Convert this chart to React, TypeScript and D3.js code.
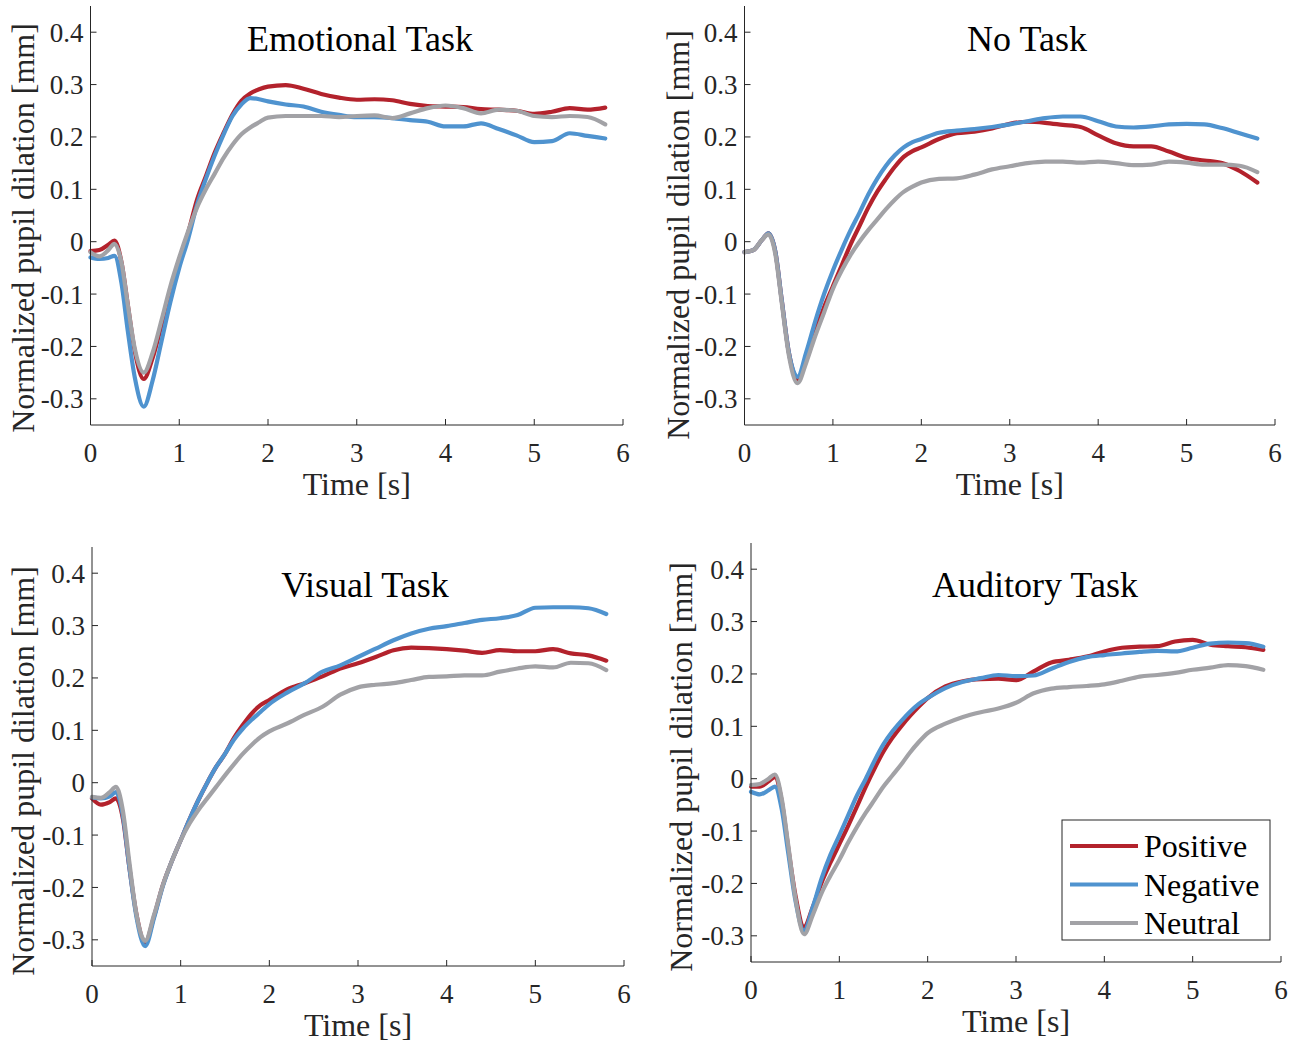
import React from "react";
import * as d3 from "d3";

// Sample times (s) shared by every series
const TIMES = [
  0, 0.1, 0.2, 0.27, 0.35, 0.42, 0.5, 0.6, 0.7, 0.8, 0.9,
  1.0, 1.1, 1.2, 1.3, 1.4, 1.5, 1.6, 1.7, 1.8, 1.9, 2.0,
  2.2, 2.4, 2.6, 2.8, 3.0, 3.2, 3.4, 3.6, 3.8, 4.0, 4.2, 4.4, 4.6, 4.8, 5.0, 5.2, 5.4, 5.6, 5.8,
];

const CONDITIONS = ["Positive", "Negative", "Neutral"];
const COLORS = ["#B3222C", "#4F93CF", "#A2A2A6"];

const X_TICKS = [0, 1, 2, 3, 4, 5, 6];
const Y_TICKS = [-0.3, -0.2, -0.1, 0, 0.1, 0.2, 0.3, 0.4];
const Y_TICK_LABELS = ["-0.3", "-0.2", "-0.1", "0", "0.1", "0.2", "0.3", "0.4"];

// Emotional Task
const emotionalPositive = [
  -0.018, -0.016, -0.006, 0.002, -0.04, -0.12, -0.21, -0.262, -0.222, -0.16, -0.095,
  -0.035, 0.017, 0.08, 0.125, 0.17, 0.208, 0.243, 0.269, 0.283, 0.291, 0.296,
  0.299, 0.292, 0.282, 0.275, 0.271, 0.272, 0.27, 0.263, 0.259, 0.258, 0.257, 0.253, 0.252, 0.25, 0.244, 0.248, 0.255, 0.252, 0.256,
];
const emotionalNegative = [
  -0.03, -0.033, -0.031, -0.027, -0.08, -0.17, -0.26, -0.315, -0.265, -0.19, -0.115,
  -0.05, 0.005, 0.07, 0.12, 0.165, 0.205, 0.24, 0.262, 0.274, 0.272, 0.268,
  0.262, 0.258, 0.248, 0.242, 0.238, 0.238, 0.236, 0.232, 0.229, 0.22, 0.22, 0.226, 0.215, 0.203, 0.19, 0.192, 0.207, 0.202, 0.197,
];
const emotionalNeutral = [
  -0.02, -0.028, -0.016, -0.004, -0.04, -0.12, -0.205, -0.25, -0.212, -0.15, -0.085,
  -0.03, 0.02, 0.065, 0.1, 0.13, 0.16, 0.185, 0.205, 0.218, 0.228, 0.237,
  0.24, 0.24, 0.24, 0.238, 0.24, 0.241, 0.236, 0.245, 0.255, 0.26, 0.255, 0.245, 0.252, 0.25, 0.24, 0.238, 0.24, 0.238, 0.224,
];

// No Task
const noTaskPositive = [
  -0.02, -0.016, 0.004, 0.016, -0.02, -0.11, -0.21, -0.262, -0.222, -0.17, -0.125,
  -0.085, -0.045, -0.005, 0.03, 0.065, 0.095, 0.12, 0.143, 0.162, 0.173, 0.18,
  0.196, 0.207, 0.21, 0.216, 0.225, 0.229, 0.227, 0.223, 0.219, 0.203, 0.188, 0.182, 0.182, 0.172, 0.16, 0.155, 0.15, 0.135, 0.113,
];
const noTaskNegative = [
  -0.02, -0.016, 0.004, 0.016, -0.02, -0.11, -0.21, -0.258, -0.21, -0.152, -0.1,
  -0.055, -0.015, 0.022, 0.055, 0.09, 0.12, 0.145, 0.165, 0.18, 0.19, 0.196,
  0.208, 0.212, 0.215, 0.219, 0.224, 0.23, 0.236, 0.239, 0.239, 0.23, 0.22, 0.218, 0.22, 0.224, 0.225, 0.224, 0.217, 0.207, 0.197,
];
const noTaskNeutral = [
  -0.02, -0.016, 0.004, 0.014, -0.025, -0.115, -0.215, -0.27, -0.23, -0.18, -0.135,
  -0.09, -0.055, -0.025, 0.0, 0.022, 0.042, 0.062, 0.08, 0.095, 0.105, 0.113,
  0.12, 0.121, 0.128, 0.138, 0.144, 0.15, 0.153, 0.153, 0.151, 0.153, 0.15, 0.146, 0.147, 0.153, 0.151, 0.147, 0.147, 0.145, 0.133,
];

// Visual Task
const visualPositive = [
  -0.03, -0.042, -0.037, -0.03, -0.07, -0.16, -0.25, -0.305, -0.255, -0.195, -0.15,
  -0.11, -0.07, -0.033, 0.0, 0.03, 0.055, 0.085, 0.11, 0.132, 0.148, 0.158,
  0.178, 0.19, 0.203, 0.218, 0.228, 0.24, 0.253, 0.258, 0.257, 0.255, 0.252, 0.248, 0.253, 0.251, 0.251, 0.255, 0.247, 0.243, 0.233,
];
const visualNegative = [
  -0.028, -0.03, -0.026, -0.018, -0.065, -0.16, -0.255, -0.312, -0.258, -0.197, -0.15,
  -0.11, -0.07, -0.033, 0.0, 0.03, 0.055, 0.082, 0.103, 0.12, 0.135, 0.15,
  0.172, 0.19, 0.212, 0.224, 0.24, 0.256, 0.272, 0.285, 0.294, 0.299, 0.305, 0.311, 0.314, 0.32, 0.334, 0.335, 0.335, 0.333, 0.322,
];
const visualNeutral = [
  -0.027, -0.029, -0.018, -0.008, -0.055, -0.15, -0.25, -0.302, -0.252, -0.195, -0.15,
  -0.11, -0.078, -0.052, -0.03, -0.008, 0.014, 0.035, 0.055, 0.072, 0.087, 0.098,
  0.113, 0.13, 0.145, 0.168, 0.182, 0.187, 0.19, 0.196, 0.202, 0.203, 0.205, 0.205, 0.212, 0.218, 0.222, 0.22, 0.229, 0.228, 0.215,
];

// Auditory Task
const auditoryPositive = [
  -0.015, -0.015, -0.005, 0.003, -0.045, -0.13, -0.22, -0.283, -0.245, -0.198, -0.16,
  -0.125, -0.09, -0.053, -0.015, 0.02, 0.052, 0.078, 0.1, 0.12, 0.138, 0.154,
  0.176, 0.186, 0.19, 0.191, 0.188, 0.205, 0.222, 0.227, 0.233, 0.243, 0.25, 0.252, 0.253, 0.262, 0.265, 0.256, 0.253, 0.251, 0.246,
];
const auditoryNegative = [
  -0.025, -0.03, -0.022, -0.015, -0.06, -0.14, -0.23, -0.29, -0.245, -0.19, -0.145,
  -0.108, -0.07, -0.032, 0.0, 0.035, 0.066, 0.09, 0.11, 0.128, 0.143, 0.154,
  0.173, 0.185, 0.192, 0.198, 0.196, 0.197, 0.21, 0.223, 0.232, 0.236, 0.239, 0.242, 0.244, 0.243, 0.25, 0.258, 0.26, 0.259, 0.252,
];
const auditoryNeutral = [
  -0.012, -0.01, 0.0, 0.008, -0.04, -0.125, -0.225, -0.297, -0.26, -0.218, -0.185,
  -0.155, -0.122, -0.092, -0.065, -0.04, -0.015, 0.006, 0.027, 0.05, 0.07, 0.087,
  0.105, 0.118, 0.127, 0.134, 0.145, 0.163, 0.172, 0.175, 0.177, 0.18, 0.187, 0.195, 0.198, 0.202, 0.208, 0.212, 0.217, 0.215, 0.208,
];

const TITLES = ["Emotional Task", "No Task", "Visual Task", "Auditory Task"];
const SERIES = [
  [emotionalPositive, emotionalNegative, emotionalNeutral],
  [noTaskPositive, noTaskNegative, noTaskNeutral],
  [visualPositive, visualNegative, visualNeutral],
  [auditoryPositive, auditoryNegative, auditoryNeutral],
];

// Panel geometry (pixels)
const PANELS = [
  { left: 90.5, right: 623, top: 6, bottom: 425, titleX: 360, titleY: 51, labX: 34, labY: 228 },
  { left: 744.5, right: 1275, top: 6, bottom: 425, titleX: 1027, titleY: 51, labX: 689, labY: 235 },
  { left: 92, right: 624, top: 547, bottom: 966, titleX: 365, titleY: 597, labX: 34, labY: 771 },
  { left: 751, right: 1281, top: 543, bottom: 962, titleX: 1035, titleY: 597, labX: 692, labY: 767 },
];

const SERIF = "'Liberation Serif', 'Times New Roman', serif";
const AXIS_COLOR = "#262626";

function Panel({ idx }: { idx: number }) {
  const p = PANELS[idx];
  const x = d3.scaleLinear().domain([0, 6]).range([p.left, p.right]);
  const y = d3.scaleLinear().domain([-0.35, 0.45]).range([p.bottom, p.top]);
  const line = d3
    .line<number>()
    .x((_, i) => x(TIMES[i]))
    .y((v) => y(v))
    .curve(d3.curveMonotoneX);

  return (
    <g>
      {SERIES[idx].map((vals, k) => (
        <path
          key={k}
          d={line(vals) || ""}
          fill="none"
          stroke={COLORS[k]}
          strokeWidth={4.2}
          strokeLinejoin="round"
          strokeLinecap="round"
        />
      ))}
      {/* axes */}
      <line x1={p.left} x2={p.left} y1={p.top} y2={p.bottom} stroke={AXIS_COLOR} strokeWidth={1} />
      <line x1={p.left} x2={p.right} y1={p.bottom} y2={p.bottom} stroke={AXIS_COLOR} strokeWidth={1} />
      {X_TICKS.map((t) => (
        <g key={"xt" + t}>
          <line x1={x(t)} x2={x(t)} y1={p.bottom} y2={p.bottom - 6} stroke={AXIS_COLOR} strokeWidth={1} />
          <text
            x={x(t)}
            y={p.bottom + 37}
            textAnchor="middle"
            fontFamily={SERIF}
            fontSize={27}
            fill={AXIS_COLOR}
          >
            {String(t)}
          </text>
        </g>
      ))}
      {Y_TICKS.map((t, i) => (
        <g key={"yt" + i}>
          <line x1={p.left} x2={p.left + 6} y1={y(t)} y2={y(t)} stroke={AXIS_COLOR} strokeWidth={1} />
          <text
            x={p.left - 7}
            y={y(t) + 9.5}
            textAnchor="end"
            fontFamily={SERIF}
            fontSize={27}
            fill={AXIS_COLOR}
          >
            {Y_TICK_LABELS[i]}
          </text>
        </g>
      ))}
      <text
        x={(p.left + p.right) / 2}
        y={p.bottom + 70}
        textAnchor="middle"
        fontFamily={SERIF}
        fontSize={32}
        fill={AXIS_COLOR}
      >
        Time [s]
      </text>
      <text
        transform={`translate(${p.labX},${p.labY}) rotate(-90)`}
        textAnchor="middle"
        fontFamily={SERIF}
        fontSize={32}
        fill={AXIS_COLOR}
      >
        Normalized pupil dilation [mm]
      </text>
      <text x={p.titleX} y={p.titleY} textAnchor="middle" fontFamily={SERIF} fontSize={36} fill="#000">
        {TITLES[idx]}
      </text>
    </g>
  );
}

function Legend() {
  const bx = 1062;
  const by = 820;
  const rows = d3.scaleLinear().domain([0, 2]).range([by + 26, by + 103]);
  return (
    <g>
      <rect x={bx} y={by} width={208} height={120} fill="#fff" stroke={AXIS_COLOR} strokeWidth={1} />
      {CONDITIONS.map((c, i) => (
        <g key={c}>
          <line x1={bx + 8} x2={bx + 76} y1={rows(i)} y2={rows(i)} stroke={COLORS[i]} strokeWidth={4.2} />
          <text x={bx + 82} y={rows(i) + 11} fontFamily={SERIF} fontSize={32} fill="#000">
            {c}
          </text>
        </g>
      ))}
    </g>
  );
}

export default function App() {
  return (
    <svg
      width={1301}
      height={1045}
      style={{ position: "absolute", left: 0, top: 0, background: "#fff" }}
    >
      <rect width={1301} height={1045} fill="#fff" />
      {PANELS.map((_, i) => (
        <Panel key={i} idx={i} />
      ))}
      <Legend />
    </svg>
  );
}
